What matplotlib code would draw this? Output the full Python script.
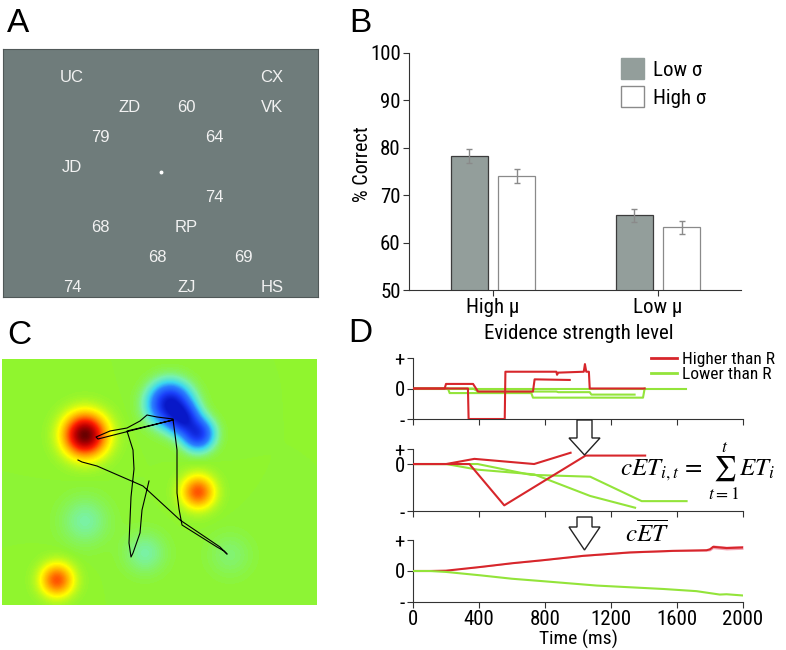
import matplotlib.pyplot as plt
import numpy as np
from matplotlib import font_manager
from matplotlib.colors import LinearSegmentedColormap, Normalize
from matplotlib.patches import Polygon, Patch
from matplotlib.lines import Line2D

W, H = 786, 650
have = {f.name for f in font_manager.fontManager.ttflist}
cond = next((f for f in ['Liberation Sans Narrow', 'DejaVu Sans Condensed', 'Roboto Condensed',
                         'Open Sans Condensed', 'Noto Sans Display'] if f in have), None)
narrow = ([cond] if cond else []) + ['Liberation Sans', 'DejaVu Sans']
k = 1.0 if cond else 0.9   # shrink text if no narrow face is around
plt.rcParams['font.family'] = narrow
plt.rcParams['mathtext.fontset'] = 'stix'

# ---- panel A: stimulus display (grid column / row of each label)
a_labels = ['UC', 'CX', 'ZD', '60', 'VK', '79', '64', 'JD', '74', '68', 'RP', '68', '69', '74', 'ZJ', 'HS']
a_cols = [0, 7, 2, 4, 7, 1, 5, 0, 5, 1, 4, 3, 6, 0, 4, 7]
a_rows = [0, 0, 1, 1, 1, 2, 2, 3, 4, 5, 5, 6, 6, 7, 7, 7]

# ---- panel B: accuracy
groups = ['High μ', 'Low μ']
low_sigma = [78.3, 65.8]
high_sigma = [74.1, 63.2]
low_sigma_err = [1.5, 1.35]
high_sigma_err = [1.5, 1.3]

# ---- panel C: value map blobs (x, y in pixels of the map, amplitude, width)
blob_x = [83, 168, 182, 196, 196, 55, 83, 143, 228]
blob_y = [76, 45, 60, 75, 133, 221, 162, 194, 196]
blob_amp = [1.0, -1.0, -0.7, -0.75, 0.5, 0.5, -0.09, -0.09, -0.05]
blob_sd = [14, 13, 10, 10, 11, 11, 16, 14, 15]
traj_x = [76, 80, 95, 141, 178, 218, 225, 222, 215, 180, 177, 175, 175, 171, 155, 145, 138, 125,
          108, 94, 96, 171, 125, 131, 132, 129, 127, 129, 131, 138, 140, 147]
traj_y = [101, 103, 107, 127, 161, 188, 195, 192, 188, 166, 150, 134, 91, 60, 58, 56, 62, 69,
          72, 78, 80, 61, 72, 91, 110, 138, 184, 198, 194, 174, 151, 122]

# ---- panel D: evidence traces (time in ms, value)
top_red = [
    ([0, 333, 337, 556, 560, 869, 873, 880, 1035, 1042, 1050, 1066, 1071, 1404],
     [0, 0, -1, -1, 0.55, 0.55, 0.45, 0.52, 0.55, 0.8, 0.55, 0.55, 0, 0]),
    ([0, 192, 200, 364, 394, 727, 737, 950],
     [0, 0, 0.15, 0.15, -0.1, -0.1, 0.3, 0.28]),
]
top_green = [
    ([0, 1657], [0, 0]),
    ([0, 212, 222, 717, 727, 1394, 1404], [0, 0, -0.15, -0.15, -0.3, -0.3, 0]),
    ([0, 364, 394, 869, 880, 1071, 1081, 1343], [0, 0, -0.1, -0.1, -0.12, -0.12, -0.2, -0.2]),
]
mid_red = [
    ([0, 201, 372, 734, 955], [0, 0, 0.11, 0, 0.24]),
    ([0, 342, 553, 1046, 1407], [0, 0, -0.88, 0.18, 0.18]),
]
mid_green = [
    ([0, 392, 714, 1074, 1386, 1658], [0, 0, -0.23, -0.27, -0.79, -0.79]),
    ([0, 201, 392, 734, 1074, 1346], [0, 0, -0.12, -0.22, -0.68, -0.93]),
]
bot_t_red = [0, 100, 200, 409, 600, 791, 1033, 1315, 1577, 1779, 1800, 1819, 1900, 2000]
bot_red = [0, 0, 0.01, 0.13, 0.25, 0.35, 0.49, 0.6, 0.65, 0.67, 0.7, 0.78, 0.74, 0.76]
bot_red_err = [0, 0, 0, 0.01, 0.01, 0.01, 0.015, 0.02, 0.02, 0.03, 0.05, 0.06, 0.06, 0.06]
bot_t_green = [0, 100, 200, 409, 600, 791, 1114, 1517, 1718, 1859, 1900, 2000]
bot_green = [0, 0, -0.03, -0.14, -0.25, -0.33, -0.47, -0.58, -0.65, -0.76, -0.75, -0.79]
time_ticks = [0, 400, 800, 1200, 1600, 2000]

RED = '#d7262b'
GREEN = '#93e43a'
SPINE = '#333333'


def rect(x0, y0, x1, y1):
    return [x0 / W, 1 - y1 / H, (x1 - x0) / W, (y1 - y0) / H]


fig = plt.figure(figsize=(W / 100, H / 100), dpi=100)

# ---------------- A
axA = fig.add_axes(rect(3, 49, 318, 297))
axA.set_facecolor('#6f7c7b')
axA.set_xlim((3 - 72) / 28.57, (318 - 72) / 28.57)
axA.set_ylim((297 - 77) / 30, (49 - 77) / 30)
for lab, c, r in zip(a_labels, a_cols, a_rows):
    axA.text(c, r, lab, color='#f2f2f2', ha='center', va='center', fontsize=12,
             family=['Liberation Sans', 'DejaVu Sans'])
axA.plot([3.12], [3.15], marker='o', ms=1.8, color='white')
axA.set_xticks([])
axA.set_yticks([])
for s in axA.spines.values():
    s.set_color('#505858')
    s.set_linewidth(0.8)

# ---------------- B
axB = fig.add_axes(rect(409, 53, 741, 290))
x = np.arange(len(groups))
bw, off = 0.225, 0.143
axB.bar(x - off, low_sigma, bw, yerr=low_sigma_err, color='#939e9b', edgecolor='#3c3c3c',
        linewidth=0.9, ecolor='#8a8a8a', capsize=2, error_kw={'elinewidth': 1, 'capthick': 1},
        label='Low σ')
axB.bar(x + off, high_sigma, bw, yerr=high_sigma_err, color='white', edgecolor='#8a8a8a',
        linewidth=0.9, ecolor='#8a8a8a', capsize=2, error_kw={'elinewidth': 1, 'capthick': 1},
        label='High σ')
axB.set_ylim(50, 100)
axB.set_xlim((409 - 493) / 165, (741 - 493) / 165)
axB.set_yticks(range(50, 101, 10))
axB.set_xticks(x)
axB.set_xticklabels(groups)
for s in ['top', 'right']:
    axB.spines[s].set_visible(False)
for s in ['left', 'bottom']:
    axB.spines[s].set_color(SPINE)
    axB.spines[s].set_linewidth(0.8)
axB.tick_params(labelsize=15 * k, length=4, width=0.8, color=SPINE, pad=2)
axB.legend(handles=[Patch(facecolor='#939e9b', edgecolor='#939e9b', label='Low σ'),
                    Patch(facecolor='white', edgecolor='#8a8a8a', label='High σ')],
           loc='upper left', bbox_to_anchor=(621 / W, 1 - 58 / H), bbox_transform=fig.transFigure,
           frameon=False, fontsize=15 * k, borderpad=0, borderaxespad=0, handlelength=1.1 / k,
           handleheight=1.2 / k, handletextpad=0.45, labelspacing=0.3)
fig.text(362 / W, 1 - 164 / H, '% Correct', rotation=90, ha='center', va='center', fontsize=14.5 * k)
fig.text(579 / W, 1 - 333 / H, 'Evidence strength level', ha='center', va='center', fontsize=15 * k)

# ---------------- C
axC = fig.add_axes(rect(2, 359, 317, 605))
gx = np.arange(315) + 0.5
gy = np.arange(246) + 0.5
GX, GY = np.meshgrid(gx, gy)
field = np.zeros_like(GX)
for bx, by, ba, bs in zip(blob_x, blob_y, blob_amp, blob_sd):
    field += ba * np.exp(-((GX - bx) ** 2 + (GY - by) ** 2) / (2 * bs ** 2))
field = np.clip(field, -1, 1)
cmap = LinearSegmentedColormap.from_list('val', [
    (0.0, '#0818c8'), (0.15, '#1a40fa'), (0.3, '#2a80ff'), (0.38, '#3cd8f0'),
    (0.45, '#78f2b0'), (0.5, '#8ef530'), (0.58, '#ffff00'), (0.7, '#ff8a00'),
    (0.8, '#ff1e00'), (0.9, '#c00000'), (1.0, '#6a0000')])
axC.imshow(field, cmap=cmap, norm=Normalize(-1, 1), extent=(0, 315, 246, 0),
           interpolation='bilinear', aspect='auto')
axC.plot(traj_x, traj_y, color='black', lw=0.8)
axC.set_xlim(0, 315)
axC.set_ylim(246, 0)
axC.axis('off')


# ---------------- D
def style_d(ax, ylim, labels_x):
    ax.set_xlim(0, 2000)
    ax.set_ylim(*ylim)
    ax.set_yticks([ylim[0], 0, ylim[1]])
    ax.set_yticklabels(['-', '0', '+'])
    ax.set_xticks(time_ticks)
    if not labels_x:
        ax.set_xticklabels([])
    for s in ['top', 'right']:
        ax.spines[s].set_visible(False)
    for s in ['left', 'bottom']:
        ax.spines[s].set_color(SPINE)
        ax.spines[s].set_linewidth(0.8)
    ax.tick_params(labelsize=15 * k, length=4, width=0.8, color=SPINE, pad=2)


axD1 = fig.add_axes(rect(413, 358, 743, 419))
for t, v in top_red:
    axD1.plot(t, v, color=RED, lw=1.5, zorder=3)
for t, v in top_green:
    axD1.plot(t, v, color=GREEN, lw=1.5, zorder=2)
style_d(axD1, (-1, 1), False)
axD1.legend(handles=[Line2D([], [], color=RED, lw=2, label='Higher than R'),
                     Line2D([], [], color=GREEN, lw=2, label='Lower than R')],
            loc='upper left', bbox_to_anchor=(651 / W, 1 - 352 / H), bbox_transform=fig.transFigure,
            frameon=False, fontsize=12.5, borderpad=0, borderaxespad=0,
            handlelength=1.5, handletextpad=0.3, labelspacing=0.0)

axD2 = fig.add_axes(rect(413, 449, 743, 511))
for t, v in mid_red:
    axD2.plot(t, v, color=RED, lw=1.5, zorder=3)
for t, v in mid_green:
    axD2.plot(t, v, color=GREEN, lw=1.5, zorder=2)
style_d(axD2, (-1, 0.32), False)

axD3 = fig.add_axes(rect(413, 540, 743, 602))
lo = np.array(bot_red) - np.array(bot_red_err)
hi = np.array(bot_red) + np.array(bot_red_err)
axD3.fill_between(bot_t_red, lo, hi, color='#f4a0b0', lw=0, zorder=2)
axD3.plot(bot_t_red, bot_red, color=RED, lw=1.5, zorder=3)
axD3.plot(bot_t_green, bot_green, color=GREEN, lw=1.5, zorder=3)
style_d(axD3, (-1, 1), True)
fig.text(578 / W, 1 - 639 / H, 'Time (ms)', ha='center', va='center', fontsize=14 * k)

fig.text(620 / W, 1 - 472 / H, r'$cET_{i,t}\,=\,\sum_{t=1}^{t}ET_i$', fontsize=18,
         ha='left', va='center')
fig.text(625 / W, 1 - 533 / H, r'$c\overline{ET}$', fontsize=18, ha='left', va='center')

# overlay for panel letters and arrows
ov = fig.add_axes([0, 0, 1, 1], zorder=10)
ov.set_xlim(0, W)
ov.set_ylim(H, 0)
ov.axis('off')
for lab, lx, ly in [('A', 7, 24), ('B', 349, 23), ('C', 7, 336), ('D', 348, 334)]:
    ov.text(lx, ly, lab, fontsize=24, ha='left', va='center',
            family=['Liberation Sans', 'DejaVu Sans'])
for top, neck, tip in [(420, 438, 455), (517, 527, 550)]:
    pts = [(577, top), (592, top), (592, neck), (600, neck), (584.5, tip), (569, neck), (577, neck)]
    ov.add_patch(Polygon(pts, closed=True, facecolor='white', edgecolor='#222222', lw=1))

fig.savefig('out.png', dpi=100)
